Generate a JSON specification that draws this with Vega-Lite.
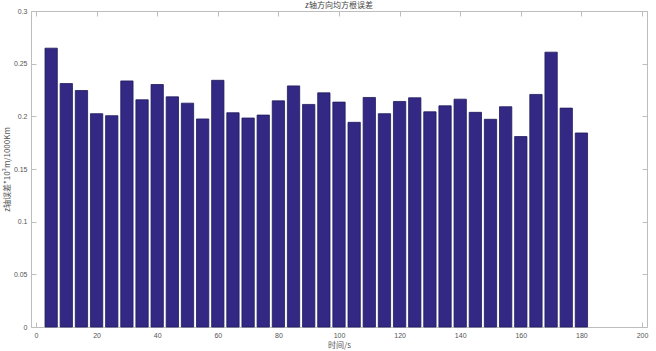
{
  "$schema": "https://vega.github.io/schema/vega-lite/v6.json",
  "autosize": {"type": "none"},
  "padding": {"left": 31, "top": 11, "right": 9, "bottom": 24},
  "width": 616,
  "height": 316,
  "background": "white",
  "title": {"text": "z轴方向均方根误差", "font": "Noto Sans CJK SC", "fontSize": 8, "fontWeight": "normal", "color": "#444444", "offset": 1, "baseline": "alphabetic", "dy": 10},
  "config": {
    "view": {"stroke": "#bdbdbd", "strokeWidth": 1},
    "axis": {"domain": false, "grid": false, "tickColor": "#bdbdbd", "tickSize": -5, "labelColor": "#555555", "labelFont": "Liberation Sans", "labelFontSize": 7, "titleFont": "Noto Sans CJK SC", "titleFontSize": 8, "titleFontWeight": "normal", "titleColor": "#555555"}
  },
  "data": {"values": [
    {"t": 5, "v": 0.2647}, {"t": 10, "v": 0.2311}, {"t": 15, "v": 0.2245}, {"t": 20, "v": 0.2025},
    {"t": 25, "v": 0.2006}, {"t": 30, "v": 0.2336}, {"t": 35, "v": 0.2157}, {"t": 40, "v": 0.2302},
    {"t": 45, "v": 0.2185}, {"t": 50, "v": 0.2125}, {"t": 55, "v": 0.1975}, {"t": 60, "v": 0.2342},
    {"t": 65, "v": 0.2034}, {"t": 70, "v": 0.1984}, {"t": 75, "v": 0.2012}, {"t": 80, "v": 0.2147},
    {"t": 85, "v": 0.2289}, {"t": 90, "v": 0.2113}, {"t": 95, "v": 0.2223}, {"t": 100, "v": 0.2135},
    {"t": 105, "v": 0.1943}, {"t": 110, "v": 0.2179}, {"t": 115, "v": 0.2025}, {"t": 120, "v": 0.2141},
    {"t": 125, "v": 0.2176}, {"t": 130, "v": 0.2043}, {"t": 135, "v": 0.2100}, {"t": 140, "v": 0.2163},
    {"t": 145, "v": 0.2038}, {"t": 150, "v": 0.1972}, {"t": 155, "v": 0.2091}, {"t": 160, "v": 0.1808},
    {"t": 165, "v": 0.2208}, {"t": 170, "v": 0.2609}, {"t": 175, "v": 0.2078}, {"t": 180, "v": 0.1842}
  ]},
  "layer": [
    {
      "mark": {"type": "bar", "width": 12.3, "color": "#332985", "stroke": "#1e1a5c", "strokeWidth": 0.8},
      "encoding": {
        "x": {"field": "t", "type": "quantitative", "scale": {"domain": [0, 200], "nice": false},
              "axis": {"orient": "bottom", "values": [0, 20, 40, 60, 80, 100, 120, 140, 160, 180, 200], "format": "d", "title": "时间/s", "titlePadding": 3, "labelPadding": 9}},
        "y": {"field": "v", "type": "quantitative", "scale": {"domain": [0, 0.3], "nice": false},
              "axis": {"orient": "left", "values": [0, 0.05, 0.1, 0.15, 0.2, 0.25, 0.3], "format": "~g", "title": "z轴误差*10³m/1000Km", "titlePadding": 2, "labelPadding": 9}}
      }
    },
    {
      "mark": {"type": "bar", "width": 12.3, "opacity": 0},
      "encoding": {
        "x": {"field": "t", "type": "quantitative", "scale": {"domain": [0, 200], "nice": false},
              "axis": {"orient": "top", "values": [0, 20, 40, 60, 80, 100, 120, 140, 160, 180, 200], "labels": false, "title": null}},
        "y": {"field": "v", "type": "quantitative", "scale": {"domain": [0, 0.3], "nice": false},
              "axis": {"orient": "right", "values": [0, 0.05, 0.1, 0.15, 0.2, 0.25, 0.3], "labels": false, "title": null}}
      }
    }
  ],
  "resolve": {"axis": {"x": "independent", "y": "independent"}}
}
